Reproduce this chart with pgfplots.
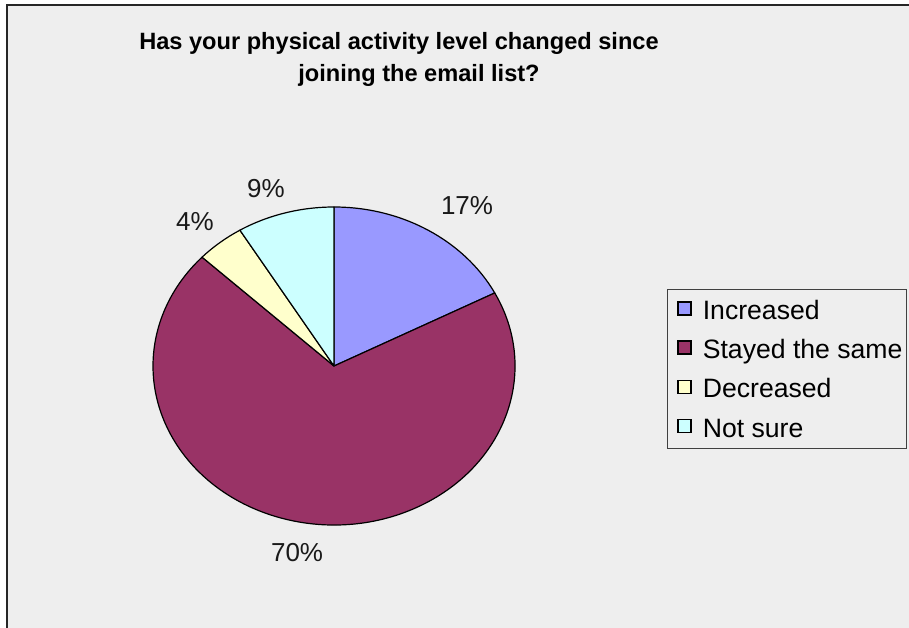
\documentclass[border=0pt]{standalone}
\usepackage{pgfplots}
\pgfplotsset{compat=1.18}
\usepackage{pgfplotstable}
\usepackage{fontspec}
\setmainfont{Liberation Sans}
\newlength\px \setlength\px{0.5pt}
\definecolor{bg}{RGB}{238,238,238}
\definecolor{incr}{RGB}{153,153,255}
\definecolor{same}{RGB}{153,51,102}
\definecolor{decr}{RGB}{255,255,204}
\definecolor{nots}{RGB}{204,255,255}
% #1 = cumulative share before the slice, #2 = share (%), #3 = colour
\newcommand\slice[3]{%
  \filldraw[fill=#3, draw=black, line width=1.2\px, line join=round]
    (axis cs:0,0) -- (axis cs:{cos(90-3.6*#1)},{sin(90-3.6*#1)})
    arc[start angle={90-3.6*#1}, end angle={90-3.6*(#1+#2)}, x radius=181\px, y radius=159\px] -- cycle;}
\begin{document}
\begin{tikzpicture}
\useasboundingbox (0,0) rectangle (909\px,627\px);
\fill[white] (0,0) rectangle (909\px,627\px);
\filldraw[fill=bg, draw=black!85, line width=2\px] (7\px,622\px) rectangle (1000\px,-100\px);
\node[anchor=base, font=\fontsize{11.8}{14}\selectfont\bfseries, inner sep=0pt] at (399\px,577\px) {Has your physical activity level changed since};
\node[anchor=base, font=\fontsize{11.8}{14}\selectfont\bfseries, inner sep=0pt] at (419\px,545\px) {joining the email list?};
\begin{axis}[
  at={(334\px,261\px)}, anchor=origin,
  x=181\px, y=159\px,
  xmin=-1, xmax=1, ymin=-1, ymax=1,
  hide axis, clip=false,
  legend image code/.code={\path (0\px,0\px); \draw[line width=1.6\px,#1] (6\px,-5\px) rectangle (19\px,8\px);},
  legend cell align=left,
  legend style={
    at={(axis description cs:1.420,0.742)}, anchor=north west,
    draw=black!75, line width=1\px, fill=bg,
    inner xsep=4\px, inner ysep=11\px,
    row sep=20.2\px, column sep=11\px,
    font=\fontsize{13.3}{16}\selectfont,
    nodes={inner sep=0pt, text height=19\px, text depth=0pt},
  },
]
\slice{0}{17.4}{incr}
\slice{17.4}{69.6}{same}
\slice{87.0}{4.3}{decr}
\slice{91.3}{8.7}{nots}
\addlegendimage{fill=incr, draw=black}
\addlegendentry{Increased}
\addlegendimage{fill=same, draw=black}
\addlegendentry{Stayed the same}
\addlegendimage{fill=decr, draw=black}
\addlegendentry{Decreased}
\addlegendimage{fill=nots, draw=black}
\addlegendentry{Not sure}
\node[font=\fontsize{13}{16}\selectfont, text=black!90] at (axis cs:0.735,1.006) {17\%};
\node[font=\fontsize{13}{16}\selectfont, text=black!90] at (axis cs:-0.204,-1.176) {70\%};
\node[font=\fontsize{13}{16}\selectfont, text=black!90] at (axis cs:-0.768,0.906) {4\%};
\node[font=\fontsize{13}{16}\selectfont, text=black!90] at (axis cs:-0.376,1.119) {9\%};
\end{axis}
\end{tikzpicture}
\end{document}
